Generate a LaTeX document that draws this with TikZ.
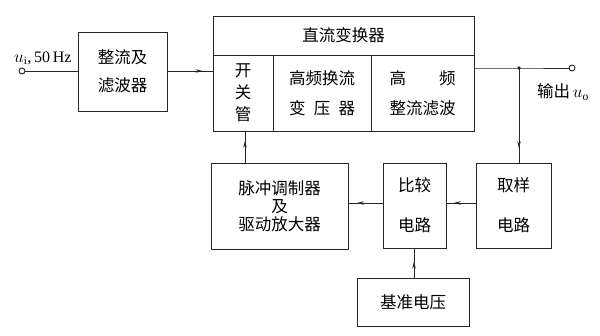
\documentclass[tikz,border=0pt]{standalone}
\usepackage{fontspec}
\newfontfamily\cjk{Noto Sans CJK SC}
\setmainfont{Liberation Serif}
\usetikzlibrary{arrows.meta,decorations.markings,calc}
\begin{document}
\begin{tikzpicture}[x=1pt,y=-1pt,
  ln/.style={draw=black!85,line width=0.9pt},
  blk/.style={ln,rectangle,inner sep=0pt,font=\cjk\fontsize{16.5}{20}\selectfont,align=center},
  term/.style={ln,circle,inner sep=0pt,minimum size=6pt,fill=white},
  midarrow/.style={postaction={decorate},decoration={markings,mark=at position #1 with {\arrow{Stealth[length=7pt,width=3.5pt]}}}},
  lbl/.style={font=\cjk\fontsize{16.5}{20}\selectfont,inner sep=0pt}
]
\useasboundingbox (0,0) rectangle (600,336);
% input
\node[term] (in) at (22,71) {};
\node[inner sep=0pt,anchor=south west,font=\fontsize{16}{18}\selectfont] (inl) at (14,65) {$u_{\mathrm{i}}$,\,50\,Hz};
\node[blk,minimum width=89pt,minimum height=79pt] (rect) at (122.5,71.5) {整流及\\[8pt]滤波器};
% DC converter
\node[blk,minimum width=261pt,minimum height=39pt] (dc) at (343.5,35.5) {直流变换器};
\node[blk,minimum width=60pt,minimum height=76pt] (sw) at (243,93) {开\\[2pt]关\\[2pt]管};
\node[blk,minimum width=98pt,minimum height=76pt] (hf) at (322,93) {高频换流\\[10pt]\makebox[4em][s]{变\hfill 压\hfill 器}};
\node[blk,minimum width=103pt,minimum height=76pt] (rf) at (422.5,93) {\makebox[4em][s]{高\hfill 频}\\[10pt]整流滤波};
% feedback blocks
\node[blk,minimum width=137pt,minimum height=86pt] (pwm) at (279.5,206) {脉冲调制器\\[-2pt]及\\[-2pt]驱动放大器};
\node[blk,minimum width=63pt,minimum height=85pt] (cmp) at (414.5,205.5) {比较\\[20pt]电路};
\node[blk,minimum width=75pt,minimum height=85pt] (smp) at (513.5,205.5) {取样\\[20pt]电路};
\node[blk,minimum width=112pt,minimum height=48pt] (ref) at (413,302) {基准电压};
% output
\coordinate (j) at (519,68);
\node[term] (out) at (572,68) {};
\fill[black!85] (j) circle (1.8pt);
\node[lbl,anchor=west] (outl) at (537,92) {输出\,$u_{\mathrm{o}}$};
% connectors
\draw[ln] (in) -- (rect.west |- in);
\draw[ln,midarrow=0.78] (rect.east |- in) -- (sw.west |- in);
\draw[ln] (rf.east |- j) -- (j) -- (out);
\draw[ln,midarrow=0.85] (j) -- (j |- smp.north);
\draw[ln,midarrow=0.75] (smp.west |- 0,203) -- (cmp.east |- 0,203);
\draw[ln,midarrow=0.75] (cmp.west |- 0,203) -- (pwm.east |- 0,203);
\draw[ln,midarrow=0.55] (ref.north -| 414,0) -- (cmp.south -| 414,0);
\draw[ln,midarrow=0.7] (pwm.north -| 245,0) -- (sw.south -| 245,0);
\end{tikzpicture}
\end{document}
